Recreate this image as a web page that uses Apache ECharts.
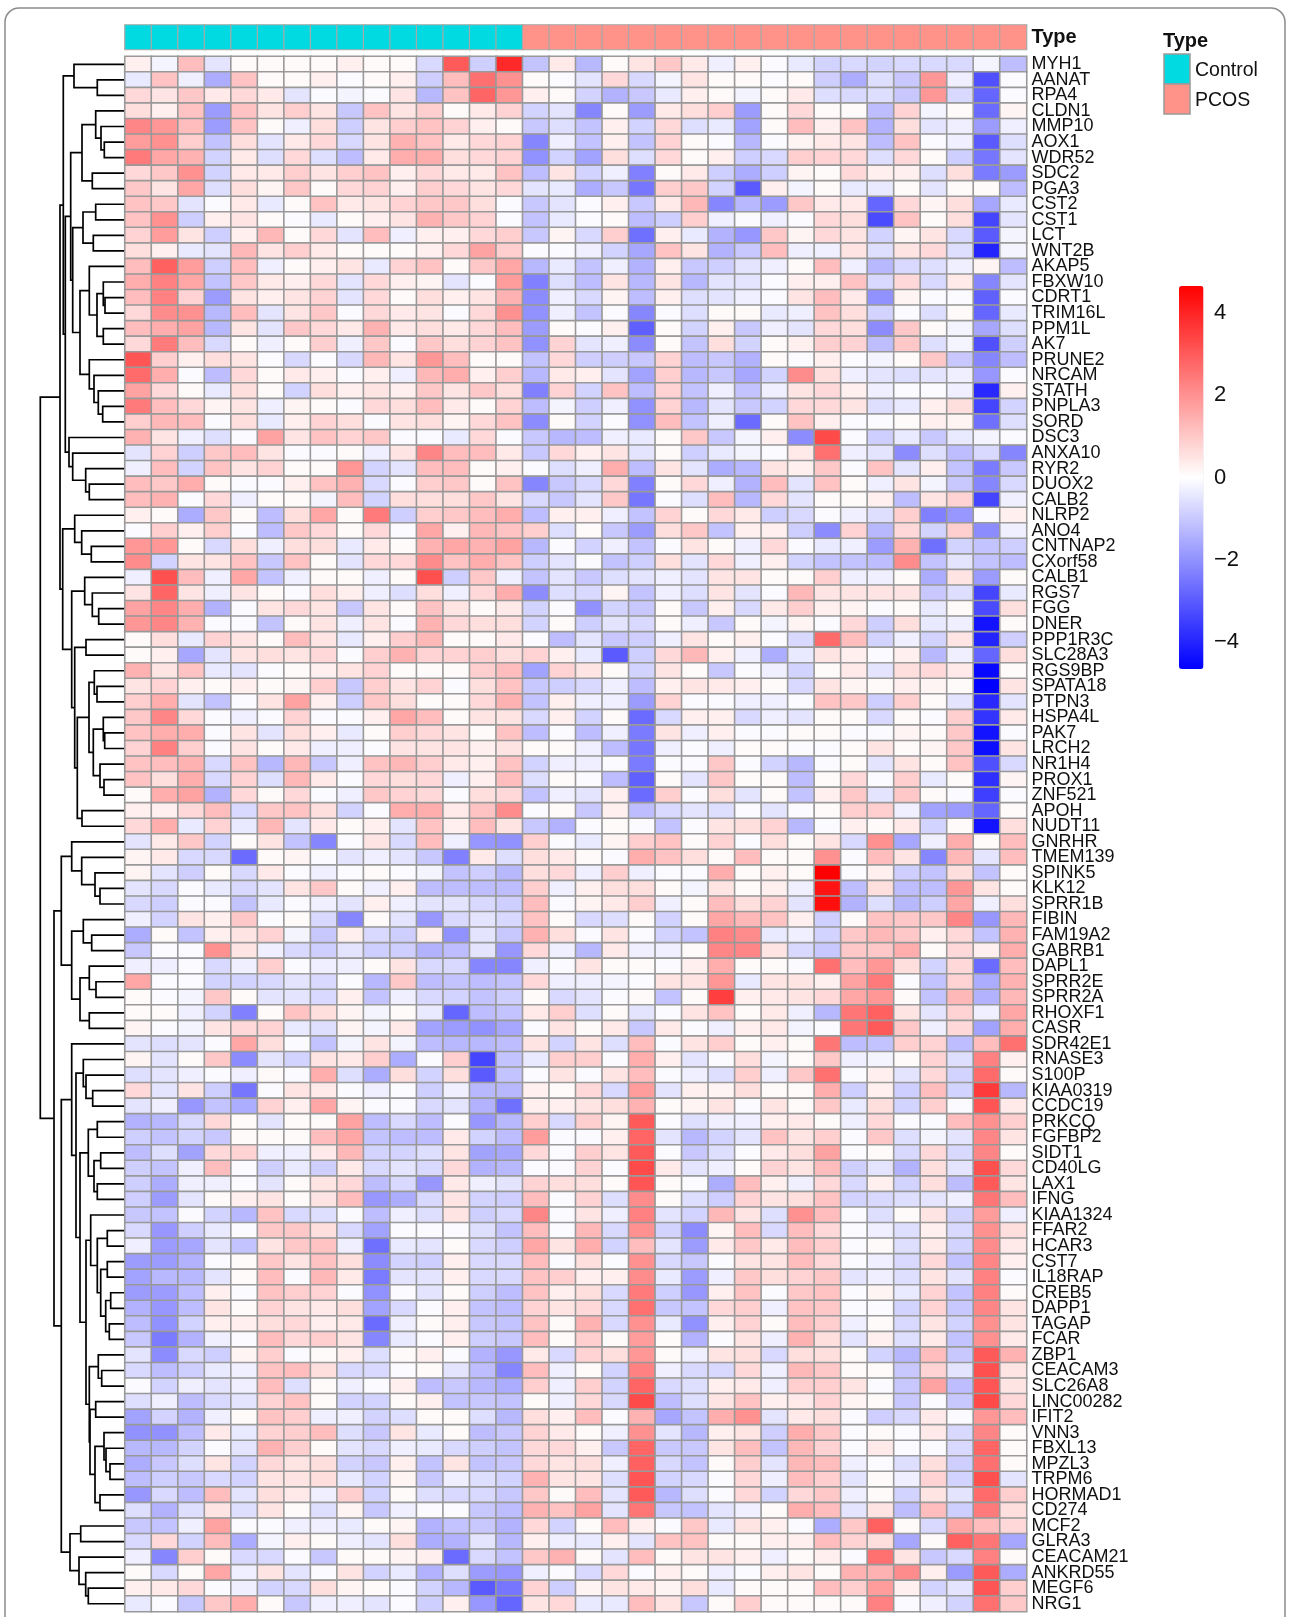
<!DOCTYPE html>
<html><head><meta charset="utf-8">
<style>html,body{margin:0;padding:0;background:#fff}#c{width:1290px;height:1617px}</style>
<script src="https://cdn.jsdelivr.net/npm/echarts@6/dist/echarts.min.js"></script>
</head><body><div id="c"></div>
<script>
const genes=["MYH1","AANAT","RPA4","CLDN1","MMP10","AOX1","WDR52","SDC2","PGA3","CST2","CST1","LCT","WNT2B","AKAP5","FBXW10","CDRT1","TRIM16L","PPM1L","AK7","PRUNE2","NRCAM","STATH","PNPLA3","SORD","DSC3","ANXA10","RYR2","DUOX2","CALB2","NLRP2","ANO4","CNTNAP2","CXorf58","CALB1","RGS7","FGG","DNER","PPP1R3C","SLC28A3","RGS9BP","SPATA18","PTPN3","HSPA4L","PAK7","LRCH2","NR1H4","PROX1","ZNF521","APOH","NUDT11","GNRHR","TMEM139","SPINK5","KLK12","SPRR1B","FIBIN","FAM19A2","GABRB1","DAPL1","SPRR2E","SPRR2A","RHOXF1","CASR","SDR42E1","RNASE3","S100P","KIAA0319","CCDC19","PRKCQ","FGFBP2","SIDT1","CD40LG","LAX1","IFNG","KIAA1324","FFAR2","HCAR3","CST7","IL18RAP","CREB5","DAPP1","TAGAP","FCAR","ZBP1","CEACAM3","SLC26A8","LINC00282","IFIT2","VNN3","FBXL13","MPZL3","TRPM6","HORMAD1","CD274","MCF2","GLRA3","CEACAM21","ANKRD55","MEGF6","NRG1"];
const typeNames=["Control","PCOS"];
const typeColors=["#00DAE0","#FF9289"];
const controlCount=15, pcosCount=19;
const colorTicks=[-4,-2,0,2,4];
const matrix=[
[.3,-.2,1.2,-.5,.1,.1,.1,.1,.3,.1,.1,-.7,3.0,-.9,3.9,-1.1,.4,-1.3,.1,.5,1.0,.4,-.3,.3,-.1,-.4,-.8,-.7,-.8,-.7,-.7,-.7,-.2,-1.2],
[-.4,1.1,-.3,-1.5,1.1,.1,.1,.3,-.1,.1,.3,-.9,1.2,2.6,2.0,.1,-.1,-.5,.7,-.7,-.2,.5,.1,.1,-.1,.1,-.9,-1.5,-.6,-1.0,1.9,-.3,-3.2,-.1],
[.7,.5,1.0,.4,.7,.4,-.5,-.1,-.2,-.1,.5,-1.3,1.1,2.8,1.9,.3,.1,-.8,-1.4,-1.0,-.4,.3,.1,-.2,.1,.4,-.6,-.7,-.6,-1.0,1.9,-.7,-2.8,-.1],
[.6,.3,1.1,-1.8,1.1,.5,.9,.5,-1.0,1.1,.5,.9,.1,.4,.8,-.8,-.5,-2.2,.1,-1.8,.4,.6,.9,-1.8,.1,.7,.1,.1,-1.2,.8,-.2,.1,-2.7,.2],
[2.2,1.9,1.2,-1.8,1.1,.1,-.3,.6,-.9,.5,.9,1.1,.8,.3,.1,-1.0,-.6,-1.1,.3,-.8,.7,-.6,-.4,-1.7,.1,1.2,.3,1.1,-1.4,.6,-.5,-.3,-1.8,-.3],
[1.8,2.0,.9,-1.1,.6,-.5,.4,.7,-.7,.5,1.4,1.1,.4,.7,.8,-2.2,-.3,-1.1,.3,-1.1,.8,.1,-.1,-1.3,-.1,.2,.4,.5,-1.2,1.1,-.1,-.3,-3.0,-.6],
[2.4,1.6,1.4,-.8,.4,-.6,.7,-.6,-1.2,.4,1.5,1.5,.6,.7,.8,-2.0,-.8,-1.7,.6,-.6,.7,.1,.3,-.9,-.7,.9,.8,.7,-.6,.7,.1,-.9,-2.5,-.5],
[.7,1.0,2.0,-.8,.4,.4,.9,.5,.9,1.1,.3,.7,.4,.4,1.1,-1.2,.5,-.8,-.3,-2.3,.1,.4,-.9,-1.5,-.9,.2,.1,.7,.3,.3,-.6,.6,-2.4,-1.8],
[1.0,.5,1.6,-.6,.6,.2,1.0,.1,.7,.8,.3,.9,.7,.5,.7,-.5,-.4,-1.5,-1.0,-2.5,.9,1.0,-.8,-3.0,.3,-.2,.1,-.4,-.4,.1,-.5,.1,.1,-1.2],
[1.1,1.0,-.5,-.1,.4,-.4,.1,1.1,.4,.5,.8,1.0,1.0,.6,-.1,-1.0,-.5,-.1,.3,-1.0,.4,1.3,-2.2,-1.3,-1.8,1.0,.4,.4,-2.8,.7,.2,.6,-1.6,-.4],
[1.1,2.0,-.9,.3,.5,.1,-.1,-.4,.1,.3,.5,1.4,1.0,.8,-.1,-1.1,-.4,-.1,.1,-1.2,-.9,.9,-.3,-.1,-.3,-.1,.7,.6,-3.3,1.1,.1,.6,-3.4,-.5],
[.8,1.8,.5,-.9,.3,1.3,.1,.7,-.5,1.2,-.3,.3,.3,.7,.9,-1.0,.2,-.7,.9,-2.6,.3,-.4,-1.4,-1.9,1.0,.2,.7,.5,-.8,.2,.5,-.7,-3.0,-.2],
[.6,.3,-.4,-.5,1.3,.5,.9,.4,.1,.1,.1,.3,.7,1.7,.9,-.1,-.1,-.3,-.8,-1.6,1.1,.5,-1.4,-1.0,1.2,-.3,-.3,.5,-.6,.5,.7,-.6,-4.0,-.2],
[1.2,2.9,1.8,-.9,1.2,-.3,.1,.3,.5,-.4,.8,1.1,.1,1.0,1.6,-1.3,-.4,-1.1,-.3,-1.4,.3,-1.0,-.9,-.5,-.3,.1,1.2,-.3,-1.3,-.7,-.6,-.3,.2,-1.2],
[1.5,2.3,1.6,-1.1,1.0,.4,.3,.7,-.5,.7,.3,.2,-.5,-.1,1.8,-2.3,-.6,-1.2,.5,-1.3,.5,-1.3,-.5,-.5,-.1,.3,.3,1.1,-.7,.7,-.7,.4,-2.2,-.5],
[1.2,2.3,.8,-1.8,.5,.3,.5,.8,-.5,.7,.1,.6,.3,.5,1.4,-2.1,-.3,-.7,.2,-1.2,.3,-.6,-.5,-.3,-.1,.5,1.2,.4,-2.0,.2,-.1,-.1,-2.9,-.1],
[.7,2.1,2.0,-1.3,1.2,-.5,.5,1.0,-.1,.7,.4,.5,-.1,.7,2.0,-2.0,-.3,-1.1,-.1,-2.2,-.1,-.6,.1,.1,-.4,-.3,1.1,.6,-.8,-.1,-.6,.1,-2.8,-.4],
[1.2,1.5,1.7,-1.3,.5,-.5,1.0,.7,.4,1.4,.4,.6,.4,.7,1.2,-1.8,.1,-.1,.3,-2.9,.1,-.8,.3,-1.0,-.3,-.5,.7,.6,-2.1,1.0,.1,-.2,-1.6,-.6],
[.7,2.4,1.2,-.7,.1,-.3,.1,.9,-.3,1.0,-.1,1.0,.6,.8,1.1,-2.0,.8,-.5,-.3,-2.1,.1,-1.1,.6,-.8,.1,.3,.9,.8,-1.2,1.0,-.6,-.2,-3.2,-.9],
[3.1,.9,.3,.6,.5,-.1,-.7,-.1,-.7,1.3,.5,1.9,1.2,.1,.1,-1.1,.7,-.9,-.9,-1.0,.8,-1.2,-1.0,-1.4,.1,-.1,.3,-.1,-.2,.1,1.0,-1.0,-2.2,-1.2],
[2.7,1.5,-.1,-1.2,.7,.1,.4,.3,-.1,.3,-.3,1.3,1.5,.3,.9,-1.3,.4,.3,-.5,-1.7,.9,-1.3,-1.0,-1.6,-.8,2.1,.6,-.3,-.5,-.6,-.5,-.3,-1.9,-.1],
[1.7,.7,.1,-.4,.6,.1,-.8,.6,.3,.5,.3,1.0,.5,1.0,.6,-2.3,.8,-.8,1.1,-1.2,.8,-1.1,-.3,-1.1,-.3,.5,.7,.3,-.3,-.1,-.1,-.3,-3.9,.3],
[2.4,1.2,.7,.2,.5,-.3,.2,.1,-.1,.7,.6,1.2,.4,.1,.8,-1.2,-.2,-.9,-.3,-2.0,.8,-1.3,-.5,-1.0,-.8,.7,.7,.5,-.6,-.4,.3,.6,-3.4,-.8],
[.9,1.3,1.2,-.1,.6,-.4,.3,.8,.6,-.1,.5,.6,.2,.7,1.1,-2.1,.1,-.8,-.1,-2.0,1.2,-1.1,-.3,-2.7,.1,1.1,.3,-.1,-.1,.1,.3,.2,-2.6,-.6],
[1.4,.5,-.3,-.6,-.1,1.7,.5,1.1,.8,1.0,-.1,-.1,-.4,.7,-.1,-1.0,-1.3,-1.2,-.3,-.4,.1,1.0,-1.0,-.2,.3,-2.1,3.3,-.1,-.9,-.4,-1.0,-.4,-.2,-.1],
[-.5,.8,-.9,1.0,1.2,.5,-.1,-.1,.1,-.3,.5,2.2,1.2,1.2,.4,-1.0,.7,.3,.5,-.5,.1,-.9,-.4,-.2,-.1,.4,2.6,-.3,-.5,-2.1,-.6,-1.2,-.7,-2.2],
[-.3,1.2,-.8,1.1,.5,.8,.1,.1,1.9,-.8,-.5,1.2,1.2,.1,.3,-.1,-.6,-.3,1.5,-1.2,.5,-.5,-1.5,-1.3,.5,.3,1.0,-.1,1.1,-.5,.3,-1.1,-2.4,-1.0],
[1.2,1.0,1.5,.1,-.1,-.1,.3,1.1,1.4,-.7,-.1,.9,1.0,.1,1.1,-2.2,-1.0,-.7,.7,-2.3,.1,.7,-.3,-1.4,1.2,-.5,1.1,.1,-.3,.5,-.2,-1.0,-2.2,-.7],
[1.2,1.4,-.1,.7,-.3,.1,.1,-.2,1.2,-.8,.6,.6,.6,1.0,.5,-.7,-1.0,-.5,1.0,-2.5,-.1,-.6,1.2,-1.3,.7,-.5,.1,.1,.3,-1.2,.5,.8,-3.4,-.3],
[.3,.1,-1.5,1.0,.1,-1.2,.6,1.6,.1,2.4,-.9,.9,1.0,1.2,1.5,-1.2,.3,.3,-.3,-1.1,.8,.1,.7,.4,-.9,-.7,-.1,-.3,-.6,.9,-2.3,-1.9,-.1,.3],
[-.1,.9,.3,.9,-.1,-1.2,1.0,.7,.1,.7,-.1,1.6,.3,1.3,1.1,.9,-.6,.1,-1.0,-1.8,.6,1.0,-1.1,.3,.3,-.9,-2.1,.8,-1.3,.7,-.8,.9,-2.1,-.3],
[1.9,1.9,.1,-.7,.6,-.3,.6,.6,-.4,.4,.1,1.4,1.6,1.4,1.7,-1.3,-.1,-.8,-.3,-1.1,-.1,.5,.1,-.3,.7,-.1,-.4,-.3,-1.8,1.4,-2.6,-.8,-1.1,-.9],
[2.1,-.8,.5,.5,1.1,-1.0,1.1,.1,-.5,.7,.7,2.1,1.1,1.5,1.1,-.9,-.5,-.1,-1.1,-.9,.6,-.5,.7,-.3,.3,-.8,-1.1,-1.1,-1.2,2.1,-1.1,-.5,-1.1,-1.2],
[-.3,3.2,1.2,-.3,1.6,-1.1,-.3,.1,.1,-.3,.1,3.2,-.9,1.0,-.3,-1.1,-.5,-1.0,-.6,-.5,-.3,-.5,.5,.5,.1,.1,.9,-.3,-.3,.1,-1.5,.5,-1.8,.1],
[.5,2.8,.5,-.3,.5,.1,-.1,.6,.3,-.3,-.6,.6,-.3,.7,1.5,-2.1,-.6,-.7,.2,-1.1,-.3,-.6,.5,-.5,-.1,1.3,.5,.5,.5,.5,-1.0,-.6,-3.4,-.4],
[1.7,2.2,1.5,-1.4,-.1,.5,.7,.5,-1.0,.5,.1,1.1,.5,.1,.4,-.8,-.1,-2.0,-.8,-1.0,.1,-1.0,.3,-.7,.4,.9,.3,.2,-.1,.1,-.4,.1,-3.3,.6],
[1.9,2.2,1.4,-.1,-.1,-1.1,.1,.5,-.3,.5,-.1,1.4,.7,.6,.6,-.8,.1,-.9,-.5,-.7,.1,-.3,-1.0,.1,-.2,.2,-.1,.7,-.9,.6,-.4,-.3,-4.3,.1],
[.1,.6,-.4,.8,.5,.1,1.2,.5,-.4,.3,.9,1.3,.1,.1,.4,-.1,-1.2,-.5,-1.0,-.9,-.3,.5,.1,.3,-.1,-.7,2.7,1.2,-.8,-.3,-.8,.5,-4.0,-.9],
[.1,.3,-1.6,-.5,.5,.6,.5,.7,-.1,.9,1.4,.8,.8,.9,.6,.8,.3,-.4,-3.0,-.9,.7,1.3,.3,-.3,-1.5,-.4,.5,.3,-.1,.3,-1.3,-.3,-2.8,.6],
[1.4,.5,1.1,-.4,-.5,-.1,.1,.3,.5,.8,.1,.1,.1,.9,1.2,-1.7,.8,.5,.1,-.8,.5,.1,-1.0,-.1,-.3,-.8,.1,.4,-.5,.6,.7,.4,-4.5,.1],
[.5,.8,.3,.1,.3,.1,.2,.9,-1.0,.9,.5,.8,-.1,.6,1.1,-1.0,-.9,-.7,-.3,-1.2,.3,.5,.4,.3,.1,-.7,.5,.2,.1,.3,.2,.1,-4.65,.5],
[.9,1.5,-.5,-1.1,-.1,.5,1.7,.3,-.9,1.0,.6,.1,.1,.7,1.4,-1.1,.3,-.3,-.3,-1.8,.8,-.1,-.1,-.3,-.3,-.1,1.1,1.0,-.9,.9,.1,-.5,-3.9,-.5],
[1.0,2.2,.7,-.1,-.3,-.1,.8,-.1,-.1,.3,1.6,1.2,.1,.5,.5,-.7,.3,-.8,.1,-2.7,-.7,.3,.3,-.7,-.3,-.5,.1,.1,-.7,.1,-.1,.9,-3.7,.4],
[1.1,1.5,1.5,-.1,.5,-.5,.6,.3,-.4,.1,.9,.7,.5,.1,1.1,-1.2,-.1,-1.2,-.3,-2.4,.5,-.3,.3,-.1,-.1,.1,.1,-.1,-.1,.2,.1,1.0,-4.3,-.1],
[.8,2.3,.9,-.1,.5,.1,.4,-.3,-.3,-.1,.5,.5,.5,.3,.5,.1,.1,-.3,-1.2,-2.5,-.3,-.1,-.3,.1,.1,-.1,-.1,.1,.5,.1,.2,1.0,-4.4,.5],
[1.1,1.2,1.4,-.7,1.1,-1.3,1.3,-1.0,-.3,1.1,1.3,.9,.4,.3,1.1,-.8,-.3,-.3,-.1,-2.4,-.1,-.1,1.0,-.1,-.8,-1.3,-.1,.1,-.5,.5,.1,1.1,-3.2,-.7],
[1.1,.6,1.5,-.7,.8,-.6,1.3,.4,-.1,.7,.6,.7,-.3,.3,1.2,-.6,.1,-.1,-1.2,-2.9,.1,-.5,1.0,.1,.1,-1.2,.1,.7,-.1,.9,-.4,.1,-3.8,.2],
[.1,1.5,1.7,-1.4,.7,.1,.7,-.1,-.3,1.0,.8,.7,-.1,.6,.7,-1.1,-.3,-.5,.3,-2.7,.9,-.1,.6,-.5,.1,-1.1,.3,1.0,-.5,1.0,.1,-.1,-3.5,-.1],
[.3,.3,.7,1.2,-.7,1.0,1.1,.6,-.8,-.1,1.5,1.5,.4,1.1,2.1,-.1,.1,-1.0,.3,-1.2,-.7,-.5,-.6,-.1,-.5,-.1,.1,.9,.9,-.3,-1.7,-1.8,-2.8,.1],
[.7,1.5,-.4,.8,-.4,1.3,-.5,.4,.1,.3,-.5,1.1,.3,1.2,.5,-1.0,-1.4,-.1,.1,-.1,-1.1,-.1,.5,.6,.8,-1.3,-.1,.3,.1,.4,-.8,.1,-4.3,.6],
[-.5,.4,1.0,-.8,.1,.5,-1.1,-2.2,-.1,.5,-.7,1.2,-.3,-1.9,-2.0,.9,-.1,-.4,.2,.9,1.1,.1,.8,-.1,.6,.1,.5,-.7,2.0,-1.6,-.3,1.5,.1,1.2],
[.2,.4,-.7,-.7,-2.7,.1,.2,-.1,-.5,-.3,-.5,-1.0,-2.3,.4,-.6,.6,.4,.1,-.1,1.5,1.1,.6,.1,1.2,.1,.1,2.0,-.1,1.2,.5,-2.2,1.3,-.5,1.2],
[.2,-.5,-.9,.1,-.7,.4,-.1,-.3,-.1,.1,-.1,-.2,-1.1,-.9,-1.3,.6,.7,-.3,.9,-.3,-.1,-.1,1.5,.1,.3,.1,4.65,-.1,.3,-.9,-1.1,.6,-1.1,.1],
[-.5,-.7,-.1,-.4,-.7,-.5,.5,1.0,.1,-.3,.3,-1.2,-1.2,-1.2,-1.2,.9,-.3,.3,.6,.6,.1,-.2,.5,.1,.3,-.3,4.3,-1.2,.6,-1.2,-1.2,1.9,.5,.1],
[-.7,-.9,-.1,-.1,-1.1,-.4,-.1,-.3,-.5,.3,-.3,-.5,-.5,-.7,-.9,1.2,-.1,.2,.4,.9,-.3,.1,1.2,.6,.8,-.5,4.4,-1.4,-.6,-1.3,-.9,1.6,-.3,.6],
[-.3,-.8,.5,.3,1.0,-.1,.1,-.7,-2.2,.1,-.5,-1.9,-.7,-.5,-.7,1.1,.1,-.7,-.6,.1,-.8,.1,1.6,1.3,1.1,.3,-.9,.1,1.1,1.0,1.0,2.2,-1.9,1.3],
[-1.5,.1,-1.1,.3,.5,.8,-.2,-1.0,.3,-.7,-.9,.3,-2.0,-.5,-1.0,1.4,.6,-.1,.5,-.1,-.8,-1.1,2.3,2.1,-.4,-.3,-.8,1.0,1.3,1.0,.3,.7,-1.1,1.4],
[-1.0,-.1,-.1,2.0,.5,-.3,-.7,-.9,-.5,-.9,-.9,-1.4,-1.2,-.5,-1.9,.7,-.3,-1.3,.4,-.3,-.3,.1,2.2,2.2,.5,-.7,-1.0,1.0,1.0,1.5,.1,.7,.3,1.5],
[-.3,-.3,-.1,-.7,-.3,.9,-.1,-.3,-.3,.1,.5,-.7,-.7,-2.2,-2.2,-.3,-.1,.5,.1,.1,-.1,.3,1.5,.1,.1,-.1,2.6,1.2,1.9,.6,-.8,.7,-2.7,1.2],
[1.6,-.1,-.1,-.8,-.8,-.7,-.5,-.7,-.1,-1.3,1.0,-1.2,-1.1,-1.2,-1.1,.7,-.3,-.3,-.2,-.1,.5,.5,1.9,-.4,.5,.5,.3,1.7,2.4,-.1,-1.1,.8,-1.5,1.4],
[.1,-.1,-.2,1.0,.1,-.5,-.5,-.7,.3,-1.1,-.3,-.7,-.8,-1.1,-.9,.1,-.7,-.5,-.1,.1,-1.1,.1,3.5,.3,.4,.5,.7,1.6,1.9,.1,-1.1,1.3,-1.4,1.3],
[.1,.1,-.3,-.8,-2.3,.1,1.1,.6,.2,-.2,.1,-.4,-2.8,-1.2,-1.1,.4,.9,-.6,.1,-.5,-.1,.5,1.1,.1,.4,-.3,-1.3,2.5,2.9,.5,-.5,.8,-.3,1.6],
[.2,-.1,-.2,.5,.7,.8,-.4,-.6,.2,-.2,.4,-1.7,-1.8,-2.0,-1.6,-.1,.5,.1,.4,-1.0,.4,-.1,-.3,.3,.4,-.2,-.1,2.5,3.0,1.0,-.3,.7,-1.7,1.5],
[-.5,-.6,-.5,-.1,1.6,.6,-.1,-1.1,-.2,.5,-.2,-1.2,-1.3,-1.3,-1.2,.5,-.8,.5,-.6,1.2,-.1,.5,.9,.1,.3,.1,2.5,-1.2,-1.1,.9,.8,-1.2,1.2,2.6],
[.2,-.5,.1,1.0,-2.1,-.5,-.8,.5,.4,.9,-1.5,-.1,.9,-3.4,-1.1,-.4,.9,.9,-.1,1.5,.3,-.5,-.1,.6,-.2,.1,1.0,-.3,-.2,.1,.8,-.6,2.3,.3],
[-.6,-.5,-.3,-.1,-.3,.1,-.1,1.5,-.6,-1.5,.6,-.8,.6,-3.0,-1.1,-.1,.5,-.1,.5,1.2,-.1,-.3,-.6,.9,-.3,1.0,2.6,-.1,.3,-.5,.7,-.8,2.7,.1],
[.7,-.5,.5,-.9,-2.5,-.1,.5,.4,-.1,-.3,-.1,-.9,-.3,-1.3,-1.3,.3,.1,.7,-.7,1.8,-.5,.3,.2,.6,.1,.1,1.5,-.9,.3,-.9,1.2,-.8,3.6,-1.3],
[-.5,-.3,-1.9,-1.1,-1.5,.8,.3,1.6,.2,-.1,-.1,-.7,-.5,-1.4,-2.6,.3,.3,.5,.6,1.4,.1,.2,.5,-.1,.5,.1,1.0,-.4,.6,-.8,.9,-.1,3.1,.4],
[-1.4,-1.3,-.7,.7,.1,-.5,.1,.1,1.7,-1.2,-.7,-1.2,-.1,-1.9,-1.3,.9,-.7,.9,.2,3.0,-.1,-.6,-.3,-.3,.3,.4,.1,-.3,.7,-.1,-.1,1.2,2.0,.9],
[-.9,-1.1,-.8,-1.0,.1,.1,.1,1.2,1.6,-1.1,-1.2,-1.2,.4,-.8,-1.2,1.8,-.1,-.1,.3,2.8,-.5,-1.3,-.8,-.5,1.1,.5,.9,-.1,1.0,-.6,-.2,-.5,2.2,.5],
[-1.2,-.6,-1.7,.7,.8,-.3,-.3,.4,1.3,-.8,-.8,-.6,.5,-1.7,-1.6,.7,-.1,.9,.5,3.0,-.1,-1.0,-.6,-.1,.4,.6,1.7,-.1,.1,-.7,.7,-.7,2.2,.1],
[-.9,-1.1,-.3,1.2,-.1,-.9,-.4,-.9,.4,-.7,-.5,-.7,.7,-1.4,-1.3,-.1,-.1,.8,-.1,3.3,.4,-.5,-.3,.1,.8,.5,1.2,-.9,-.5,-1.4,.6,-.5,3.2,.7],
[-.9,-1.5,-.3,-.3,-.1,-.5,.1,.5,.7,-1.2,-.7,-1.9,.4,-.3,-.5,.8,.6,.6,.1,3.1,.1,-.1,-1.5,1.2,.3,-.3,.7,-.7,.3,-.8,.6,-1.2,3.0,.5],
[-.9,-1.8,-.5,.1,.3,.5,.1,.5,1.2,-1.9,-1.5,-.7,.5,-.8,-.9,1.2,-.1,.8,-.6,2.1,.1,-.6,-.9,.8,.5,.6,1.1,-.8,-.7,-.6,-.5,-.3,2.5,1.2],
[-1.0,-1.1,-.1,-.8,-1.3,1.1,-.7,-.6,-.1,-1.2,-.3,-.6,.5,-.9,-.7,2.2,-.1,.5,-.3,2.3,-.5,-.8,1.3,.5,-.6,2.0,1.2,-.1,-.6,.1,.5,-.8,1.8,-.3],
[-.7,-1.9,-.9,-.4,-.1,1.0,1.0,.6,-.7,-1.7,-.1,-.1,-.1,-.6,-1.1,1.2,-.1,1.3,-.7,2.0,-.8,-2.1,.2,1.2,-.7,1.2,.7,-.1,-.3,-.6,.3,-.7,2.0,.6],
[-.3,-1.8,-1.6,-.5,-1.1,.5,1.0,1.1,-.3,-2.6,-.4,-.5,.1,-.7,-.9,1.6,.5,1.5,-.8,1.2,-.5,-1.8,.4,1.0,.4,1.2,.9,-.1,.1,-.6,.4,-.8,2.1,.4],
[-1.8,-1.8,-1.4,-.1,.1,1.0,.5,1.1,.6,-2.1,-.8,-.9,.3,-.7,-.7,1.2,-.1,.6,-.1,2.0,-.7,-1.0,-.1,.5,.5,1.2,.7,-.1,-.3,-.7,.7,-1.1,2.2,.3],
[-1.7,-1.3,-1.3,-.5,.1,1.2,-.1,1.3,.4,-2.4,-.5,-.5,.3,-.7,-.7,1.1,.9,.3,.3,2.1,-.4,-1.8,-.3,1.0,.6,.8,1.0,-.5,-.3,-.6,.5,-.5,2.3,-.1],
[-1.8,-1.8,-1.2,.3,-.1,1.1,.9,.8,-.1,-2.0,-.1,-.5,.1,-.9,-1.2,1.1,.3,.6,-.7,2.4,-.9,-1.9,.3,1.1,-.1,1.0,1.1,-.1,.2,-.4,.8,-1.1,2.3,.1],
[-1.4,-1.9,-1.2,.5,.1,.8,.5,.4,.6,-1.7,-.7,-.1,.3,-1.1,-1.2,.8,.5,.7,-.7,2.6,-1.0,-1.1,.7,.9,-.3,1.1,1.0,-.1,-.1,-.8,.8,-1.0,2.2,.5],
[-1.2,-2.0,-.8,.3,.3,.6,.7,.3,.4,-2.7,-.3,.1,.3,-1.0,-1.1,1.1,.1,1.4,-.7,2.0,-.4,-2.0,.3,.8,.1,1.2,.9,-.3,.1,-.7,.5,-.8,2.0,.5],
[-1.0,-2.4,-1.4,-.3,-.1,1.2,.7,.9,.5,-2.2,-.4,-.1,.3,-.9,-1.0,1.2,.1,.9,.1,1.8,.1,-1.4,-.1,.5,-.3,1.4,.6,-.5,.3,-.6,.4,-1.1,2.0,.4],
[-.5,-2.1,-.7,-.9,.2,.9,-.1,.1,.3,-.6,.1,.3,-.1,-1.4,-1.9,.4,-.7,.8,.6,1.9,.1,-.3,.5,.6,-.7,.6,.6,.1,-.8,-1.3,1.2,-1.0,3.0,1.4],
[-.7,-1.2,-.9,-.4,-.3,1.1,1.2,.6,-.7,-.7,-.1,.1,-.5,-1.2,-2.2,1.2,-.3,.1,-.8,2.3,-.3,-.7,-.7,.7,-.3,1.3,1.0,.1,.1,-1.0,.8,-.5,3.2,.5],
[-.1,-.8,-.3,-.5,-.3,1.2,-.6,.1,-.3,-.1,.3,-1.2,-1.0,-1.3,-1.5,.9,-.3,.9,-.8,2.8,-.7,-.6,.3,.4,-.3,.9,.9,.5,-.1,-1.0,1.7,-1.2,3.1,.5],
[-.6,-.3,-1.2,-.7,-.5,.8,1.1,.1,-.8,-.8,.1,.3,-1.1,-1.0,-1.1,.1,-.3,.7,-.7,3.3,-1.2,-.6,.5,1.1,.3,.4,.8,.2,.1,-1.0,-.1,-1.0,3.3,.7],
[-1.7,-.8,-1.4,-.3,.1,1.1,.9,-.3,-.3,-.8,-.6,.1,.1,-.6,-1.3,.6,.3,1.2,-.1,1.4,-1.6,-1.1,1.5,2.0,-.5,.4,.6,-.1,-.9,-.7,.4,-.1,1.9,1.2],
[-2.0,-2.0,-1.2,.4,-.4,.8,.9,1.2,-.6,-1.0,.5,-.4,.1,-1.2,-1.0,.8,.4,.1,-.3,2.0,-.5,-1.3,.3,.5,-.9,1.5,1.0,-.1,.1,-.1,.4,-.7,2.2,.1],
[-1.3,-1.3,-.8,-.1,-.5,1.4,.9,.1,-.5,-.7,-.3,-.4,-.7,-.9,-1.1,.7,.7,.3,-1.0,2.8,-1.0,-1.0,.5,1.2,-1.1,1.3,.8,-.1,.4,-.1,-.1,-.7,2.8,.1],
[-1.5,-1.0,-.6,.5,-.8,.7,.5,.6,-.8,-1.0,.3,-1.1,.5,-1.1,-1.0,.7,.5,.6,-.3,2.9,-.7,-1.1,.1,.9,-.5,1.3,1.2,-.3,-.1,-.6,.6,-.9,2.6,.1],
[-1.2,-.9,-1.0,-.7,-.8,.5,.5,.6,-.4,-.8,.2,-1.0,-.3,-.6,-.8,1.4,.5,.5,-.6,3.1,-.8,-.7,-.1,.7,-.3,1.2,.9,-.5,.1,-.3,.8,-.8,3.2,-.5],
[-1.9,-.7,-1.2,1.2,-.5,.6,.4,-.3,.9,-.8,.1,-.6,-.7,-.7,-1.0,1.0,.1,1.2,-.5,3.0,-1.3,-.6,-.1,.7,-.8,.7,1.0,-.3,.1,-.8,.5,-.5,2.7,.9],
[-.6,-1.4,-.6,.5,-.6,.5,.1,-.6,.2,-1.0,-.3,-.1,-.1,-1.0,-1.2,1.4,1.1,1.7,-.5,2.5,-1.0,-1.1,-.5,-.3,.1,1.5,1.2,-.5,.5,-1.2,1.2,-.9,2.4,.6],
[-1.0,-1.1,-.3,1.7,-.1,-.1,-.3,-.3,-.4,.1,.2,-1.4,-1.1,-1.0,-1.4,.7,-.8,.1,1.2,.3,-.1,1.0,-.4,.5,.3,-.1,-1.5,1.0,2.9,.1,-.7,1.6,1.2,.7],
[-.7,.7,-.8,1.2,-1.5,-.2,.3,.1,-.3,-.5,.6,-1.5,-1.4,-.5,-1.3,.3,-.3,-.4,.3,-.5,1.1,1.1,.1,.1,.3,.3,1.2,.8,.6,-1.6,.1,2.9,2.5,-1.6],
[-.3,-2.2,.9,.1,-.7,-.7,-.1,-1.0,.1,.1,.2,.3,-2.7,-.7,-1.1,1.0,1.4,.1,-.5,1.2,.1,.5,.5,.3,-.3,.1,.3,-.1,2.6,.5,-1.0,-.7,2.3,.1],
[.1,-.7,.1,1.6,-.3,.5,-.5,-.1,.5,-.8,-.4,-1.4,-.6,-1.8,-1.9,-.3,-.1,-.7,.7,-.1,.3,.1,-.3,-.1,.3,.5,.1,1.4,1.4,2.1,.3,-1.8,3.0,-1.5],
[.3,.4,.7,-.1,-.3,-.8,-.7,.6,.2,.1,-.1,-.8,-1.3,-3.0,-2.5,.8,-.9,.2,.5,.4,.2,.6,-.4,.1,.1,.1,1.2,.9,1.8,.3,-.8,-.5,3.1,.9],
[-.4,-.1,-1.0,1.0,1.5,.1,-1.0,-.3,-.3,-.5,-.1,-.9,.3,-1.9,-2.8,.5,.7,-.4,-.4,1.2,.5,-1.0,.1,.9,.1,.1,.1,.1,2.3,-.1,-.3,-.8,2.6,1.0]
];
// row dendrogram: [merge height, child, child]; a number is a row index
const treeTop=[64,[60.7,[50,0,[26.7,1,2]],[58.7,[53.3,[42,[28.3,3,[23,4,[19.7,5,6]]],[31.7,7,8]],[51.3,[41,[28.3,9,10],[30.7,11,12]],[44,[34.7,13,[27,[20.7,14,[19,15,16]],[20.7,17,18]]],[34.7,19,[30,20,[25.7,21,[21.3,22,23]]]]]]],[55,24,[51.3,25,[38.3,26,[34.7,27,28]]]]]],[61.3,[49.3,29,[42.3,30,[32.7,31,32]]],[52.3,[39.3,33,[31.7,34,[25.3,35,36]]],[49.3,[38,37,38],[46.7,[35,[29.7,39,[27,40,41]],[30.7,[20.7,42,[19.3,43,44]],[24,45,[20,46,47]]]],[42,48,49]]]]]];
const treeBottomA=[62.7,[52.3,50,[42.3,51,[29,52,[24,53,54]]]],[52.3,[40.7,55,[32.3,56,57]],[44,[34.7,58,[28,59,60]],[34.7,61,62]]]];
const treeBottomB=[62.7,[52.3,63,[48,[40.7,64,[38,65,[31.3,66,67]]],[44,[35.7,[26.7,68,69],[30,[23.3,70,71],[26.7,72,73]]],[38,[33.3,74,[26.7,[16.7,75,76],[23.3,[16.7,77,78],[18.3,[13.3,79,80],[14.7,81,82]]]]],[34.7,[25.7,83,[22.3,84,85]],[34,[28.3,86,87],[29,[20,88,[18,89,[14,90,91]]],[24,92,93]]]]]]]],[54,[43.3,94,95],[45,96,[38.3,97,[35.7,98,99]]]]];
const tree=[83.7,treeTop,[70,treeBottomA,treeBottomB]];

matrix.forEach((r,i)=>{if(r.length!==34)throw new Error('row '+i+' '+genes[i]+' has '+r.length);});
if(matrix.length!==genes.length)throw new Error('rows '+matrix.length);

const samples=Array.from({length:controlCount+pcosCount},(_,i)=>'S'+(i+1));
const heatData=[];
matrix.forEach((r,y)=>r.forEach((v,x)=>heatData.push([x,y,v])));
const annData=samples.map((s,i)=>[i,0,i<controlCount?0:1]);

const segs=[];
function walk(n){
  if(typeof n==='number')return {h:0,y:n+.5};
  const a=walk(n[1]),b=walk(n[2]);
  segs.push([n[0],a.y,a.h,b.y,b.h]);
  return {h:n[0],y:(a.y+b.y)/2};
}
walk(tree);

const FONT='"Liberation Sans",Arial,sans-serif';
const GRID={left:125,width:901.5};
const chart=echarts.init(document.getElementById('c'),null,{renderer:'canvas'});
chart.setOption({
  animation:false,
  backgroundColor:'#fff',
  textStyle:{fontFamily:FONT},
  grid:[
    {left:GRID.left,width:GRID.width,top:56.5,height:1555},
    {left:GRID.left,width:GRID.width,top:25,height:24.5},
    {left:4,width:120,top:56.5,height:1555},
    {left:1204,width:1,top:286,height:383}
  ],
  xAxis:[
    {type:'category',gridIndex:0,data:samples,show:false},
    {type:'category',gridIndex:1,data:samples,show:false},
    {type:'value',gridIndex:2,min:0,max:120,inverse:true,show:false},
    {type:'value',gridIndex:3,min:0,max:1,show:false}
  ],
  yAxis:[
    {type:'category',gridIndex:0,data:genes,inverse:true,position:'right',
     axisLine:{show:false},axisTick:{show:false},splitLine:{show:false},
     axisLabel:{interval:0,margin:5,fontSize:18,color:'#111',fontFamily:FONT,padding:[3,0,0,0],lineHeight:16}},
    {type:'category',gridIndex:1,data:['Type'],position:'right',
     axisLine:{show:false},axisTick:{show:false},
     axisLabel:{margin:5,fontSize:20,fontWeight:'bold',color:'#111',fontFamily:FONT}},
    {type:'value',gridIndex:2,min:0,max:100,inverse:true,show:false},
    {type:'value',gridIndex:3,min:-4.65,max:4.65,position:'right',
     axisLine:{show:false},axisTick:{show:false},splitLine:{show:false},
     axisLabel:{customValues:colorTicks,margin:9,fontSize:22,color:'#111',fontFamily:FONT,padding:[2,0,0,0],
       formatter:v=>String(v).replace('-','\u2212')}}
  ],
  visualMap:[
    {type:'continuous',seriesIndex:0,min:-4.65,max:4.65,calculable:false,left:1179,top:286,padding:0,
     itemWidth:24.5,itemHeight:383,text:null,showLabel:false,
     inRange:{color:['#0000ff','#ffffff','#ff0000']},formatter:()=>''},
    {type:'piecewise',seriesIndex:1,show:false,
     pieces:[{value:0,color:typeColors[0],label:typeNames[0]},{value:1,color:typeColors[1],label:typeNames[1]}]}
  ],
  series:[
    {type:'heatmap',xAxisIndex:0,yAxisIndex:0,data:heatData,silent:true,
     itemStyle:{borderColor:'#999999',borderWidth:1.6}},
    {type:'heatmap',xAxisIndex:1,yAxisIndex:1,data:annData,silent:true,
     itemStyle:{borderColor:'#a8a8a8',borderWidth:1.2}},
    {type:'custom',xAxisIndex:2,yAxisIndex:2,data:segs,silent:true,clip:false,
     encode:{x:[0,2,4],y:[1,3]},
     renderItem:(p,api)=>{
       const h=api.value(0),ya=api.value(1),ha=api.value(2),yb=api.value(3),hb=api.value(4);
       return {type:'polyline',
         shape:{points:[api.coord([ha,ya]),api.coord([h,ya]),api.coord([h,yb]),api.coord([hb,yb])]},
         style:{stroke:'#000',lineWidth:1.7,fill:null}};
     }},
    {type:'custom',xAxisIndex:3,yAxisIndex:3,data:[],silent:true,renderItem:()=>null}
  ],
  graphic:[
    {type:'rect',silent:true,z:-1,shape:{x:5,y:8,width:1280,height:1660,r:14},
     style:{fill:'#fff',stroke:'#8c8c8c',lineWidth:1.5}},
    {type:'text',silent:true,left:1163,top:31,style:{text:'Type',font:'bold 20px '+FONT,fill:'#111'}},
    ...typeNames.flatMap((n,i)=>[
      {type:'rect',silent:true,shape:{x:1164,y:54+i*30,width:26,height:30},
       style:{fill:typeColors[i],stroke:'#9a9a9a',lineWidth:1.5}},
      {type:'text',silent:true,left:1195,top:61+i*29.5,style:{text:n,font:'19.5px '+FONT,fill:'#111'}}
    ])
  ]
});
</script></body></html>
